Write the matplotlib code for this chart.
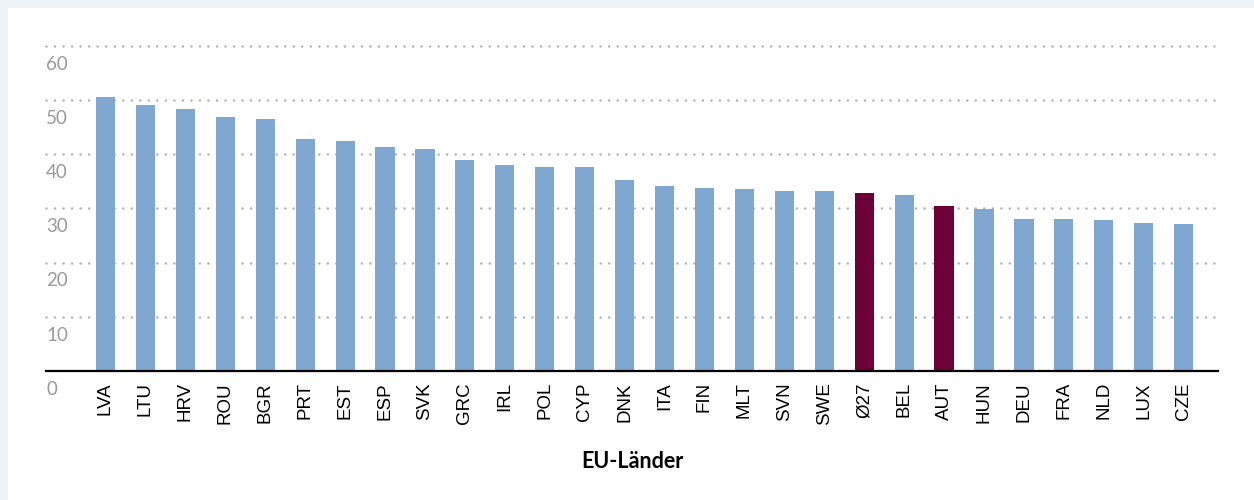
import numpy as np
import matplotlib
matplotlib.use("Agg")
import matplotlib.pyplot as plt
from matplotlib.patches import Rectangle
from matplotlib.transforms import offset_copy

# data
countries = ["LVA", "LTU", "HRV", "ROU", "BGR", "PRT", "EST", "ESP", "SVK", "GRC",
             "IRL", "POL", "CYP", "DNK", "ITA", "FIN", "MLT", "SVN", "SWE", "Ø27",
             "BEL", "AUT", "HUN", "DEU", "FRA", "NLD", "LUX", "CZE"]
values = [50.6, 49.1, 48.3, 46.9, 46.5, 42.8, 42.4, 41.3, 41.0, 38.9,
          38.0, 37.6, 37.7, 35.3, 34.2, 33.7, 33.5, 33.3, 33.3, 32.8,
          32.5, 30.4, 29.9, 28.0, 28.0, 27.9, 27.3, 27.1]
highlight = ["Ø27", "AUT"]
yticks = [0, 10, 20, 30, 40, 50, 60]

BLUE = "#7fa7cf"
MAROON = "#6e0038"
OUTER = "#edf3f6"

fig = plt.figure(figsize=(12.54, 5.0), dpi=100)
fig.patch.set_facecolor(OUTER)
# white panel
fig.add_artist(Rectangle((8 / 1254, 0), 1, 1 - 8 / 500, transform=fig.transFigure,
                         facecolor="white", edgecolor="none", zorder=-10))

ax = fig.add_axes([46 / 1254, 129 / 500, 1172 / 1254, (371 - 40.4) / 500])
ax.set_facecolor("none")

x = np.arange(len(countries))
colors = [MAROON if c in highlight else BLUE for c in countries]
ax.bar(x, values, width=0.48, color=colors, zorder=2)

ax.set_xlim(-1.49, 27.86)
ax.set_ylim(0, 61)

# dotted grid lines
for v in yticks[1:]:
    ax.axhline(v, color="#b0b0b0", lw=1.8, linestyle=(0, (0.01, 3.4)),
               dash_capstyle="round", zorder=1, clip_on=False)

# y labels below the grid lines, left aligned
trans = offset_copy(ax.transData, fig=fig, x=0, y=-7, units="points")
for v in yticks:
    ax.text(-1.49, v, str(v), transform=trans, ha="left", va="top",
            fontsize=13.5, color="#9a9a9a", family="Lato")
ax.set_yticks([])

for s in ["top", "right", "left"]:
    ax.spines[s].set_visible(False)
ax.spines["bottom"].set_linewidth(1.6)
ax.spines["bottom"].set_color("black")
ax.spines["bottom"].set_zorder(3)

ax.set_xticks(x)
ax.set_xticklabels(countries, rotation=90, fontsize=13.5, family="Liberation Sans",
                   color="black")
ax.tick_params(axis="x", length=0, pad=8)

fig.text(632 / 1254, 1 - 462 / 500, "EU-Länder", ha="center", va="center",
         fontsize=15.5, fontweight="bold", family="Lato")

fig.savefig("out.png", dpi=100, facecolor=fig.get_facecolor())
